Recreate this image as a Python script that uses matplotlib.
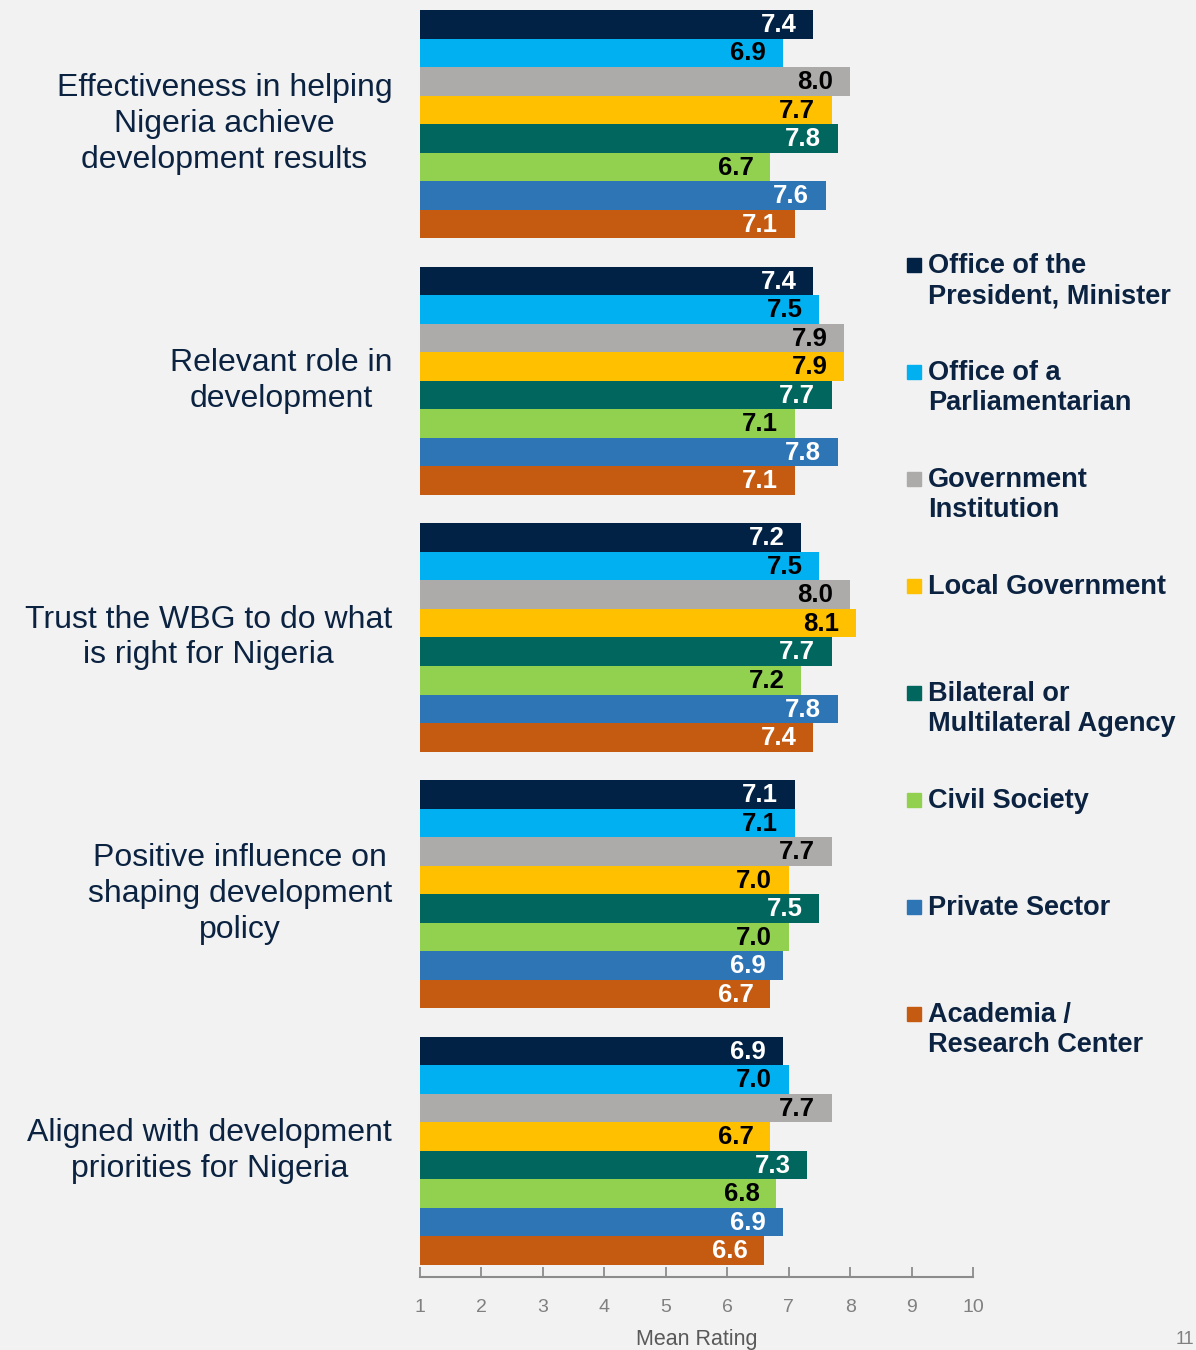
"""Calificacion media por tipo de interesado"""

import matplotlib.pyplot as plt
import numpy as np

plt.rcParams['font.family'] = ['Liberation Sans', 'DejaVu Sans']

preguntas = [
    'Effectiveness in helping\nNigeria achieve\ndevelopment results',
    'Relevant role in\ndevelopment',
    'Trust the WBG to do what\nis right for Nigeria',
    'Positive influence on\nshaping development\npolicy',
    'Aligned with development\npriorities for Nigeria',
]

grupos = [
    'Office of the\nPresident, Minister',
    'Office of a\nParliamentarian',
    'Government\nInstitution',
    'Local Government',
    'Bilateral or\nMultilateral Agency',
    'Civil Society',
    'Private Sector',
    'Academia /\nResearch Center',
]

# valores por pregunta (filas) y grupo (columnas)
efectividad = [7.4, 6.9, 8.0, 7.7, 7.8, 6.7, 7.6, 7.1]
rol_relevante = [7.4, 7.5, 7.9, 7.9, 7.7, 7.1, 7.8, 7.1]
confianza = [7.2, 7.5, 8.0, 8.1, 7.7, 7.2, 7.8, 7.4]
influencia = [7.1, 7.1, 7.7, 7.0, 7.5, 7.0, 6.9, 6.7]
alineado = [6.9, 7.0, 7.7, 6.7, 7.3, 6.8, 6.9, 6.6]
valores = [efectividad, rol_relevante, confianza, influencia, alineado]

ticks = list(range(1, 11))

colores = ['#022245', '#00B0F0', '#ADAAAA', '#FFC000',
           '#00665E', '#92D050', '#2E75B6', '#C55A11']
texto_color = ['white', 'black', 'black', 'black',
               'white', 'black', 'white', 'white']

fondo = '#F2F2F2'
azul_texto = '#0B2341'

fig = plt.figure(figsize=(11.96, 13.5), dpi=100, facecolor=fondo)
H = 1350
W = 1196
ax = fig.add_axes([420 / W, 1 - 1277 / H, (973 - 420) / W, (1277 - 10) / H])
ax.set_facecolor(fondo)

n = len(grupos)
paso = n + 1
for g, vals in enumerate(valores):
    for i, v in enumerate(vals):
        y = g * paso + i + 0.5
        ax.barh(y, v - 1, left=1, height=1.0, color=colores[i], linewidth=0)
        ax.annotate(f'{v:.1f}', xy=(v, y), xytext=(-12, -0.5),
                    textcoords='offset points', ha='right', va='center',
                    fontsize=18.5, fontweight='bold', color=texto_color[i])
    centro = g * paso + n / 2
    ax.annotate(preguntas[g], xy=(1, centro), xytext=(-20, 0),
                textcoords='offset points', ha='right', va='center',
                multialignment='center', fontsize=23, color=azul_texto,
                linespacing=1.25, annotation_clip=False)

total = len(valores) * paso - 1
ax.set_ylim(total + 12 / 28.52, 0)
ax.set_xlim(1, 10)
ax.set_xticks(ticks)
ax.set_yticks([])
for lado in ['top', 'right', 'left']:
    ax.spines[lado].set_visible(False)
ax.spines['bottom'].set_color('#8C8C8C')
ax.spines['bottom'].set_linewidth(1.5)
ax.tick_params(axis='x', direction='in', length=7, width=1.3, color='#8C8C8C',
               labelsize=14, labelcolor='#808080', pad=16)
ax.set_xlabel('Mean Rating', fontsize=15.5, color='#595959', labelpad=9)

# leyenda manual
for i, nombre in enumerate(grupos):
    yc = 265 + 107 * i
    fig.patches.append(plt.Rectangle((907 / W, 1 - (yc + 7) / H), 14 / W, 14 / H,
                                     transform=fig.transFigure,
                                     color=colores[i]))
    fig.text(928 / W, 1 - (yc - 12) / H, nombre, ha='left', va='top',
             fontsize=19.5, fontweight='bold', color=azul_texto,
             linespacing=1.2)

fig.text(1176 / W, 2 / H, '11', fontsize=13, color='#808080',
         ha='left', va='bottom')

fig.savefig('out.png', dpi=100, facecolor=fondo)
